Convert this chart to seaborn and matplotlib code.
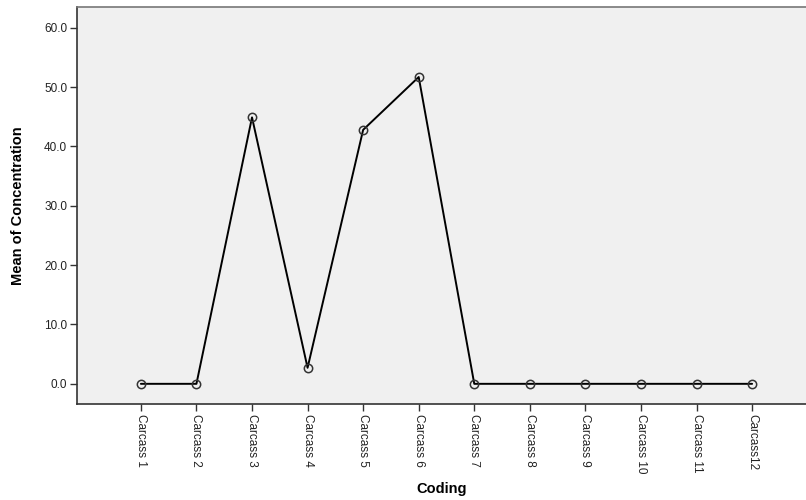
import matplotlib
matplotlib.use("Agg")
import matplotlib.pyplot as plt
import seaborn as sns

# dados
coding = ["Carcass 1", "Carcass 2", "Carcass 3", "Carcass 4", "Carcass 5", "Carcass 6",
          "Carcass 7", "Carcass 8", "Carcass 9", "Carcass 10", "Carcass 11", "Carcass12"]
concentration = [0.0, 0.0, 44.9, 2.7, 42.8, 51.7, 0.0, 0.0, 0.0, 0.0, 0.0, 0.0]
yticks = [0, 10, 20, 30, 40, 50, 60]

sns.set_style("white")
plt.rcParams['font.family'] = ['Liberation Sans', 'DejaVu Sans']

fig = plt.figure(figsize=(8.06, 5.0), dpi=100)
ax = fig.add_axes([0.0955, 0.192, 0.9045, 0.794])
ax.set_facecolor("#f0f0f0")

sns.lineplot(x=coding, y=concentration, ax=ax, color="black", linewidth=1.4,
             marker="o", markersize=6, markerfacecolor="none",
             markeredgecolor="#333333", markeredgewidth=1.1, sort=False)

ax.set_xlim(-1.15, 11.97)
ax.set_ylim(-3.4, 63.5)
ax.set_yticks(yticks)
ax.set_yticklabels([f"{v:.1f}" for v in yticks], fontsize=8.5, color="#222222")
ax.set_xticks(range(len(coding)))
ax.set_xticklabels(coding, rotation=270, fontsize=8.5, va="top", ha="center", color="#222222")

ax.tick_params(axis="both", direction="out", length=5, width=1, color="#333333",
               bottom=True, left=True, pad=2)

ax.set_ylabel("Mean of Concentration", fontsize=10.5, fontweight="bold", color="black", labelpad=14)
ax.set_xlabel("Coding", fontsize=10.5, fontweight="bold", color="black", labelpad=6)

for side in ["left", "bottom"]:
    ax.spines[side].set_color("#333333")
    ax.spines[side].set_linewidth(1.2)
ax.spines["top"].set_color("#777777")
ax.spines["top"].set_linewidth(1.2)
ax.spines["right"].set_visible(False)

fig.savefig("out.png", dpi=100, facecolor="white")
